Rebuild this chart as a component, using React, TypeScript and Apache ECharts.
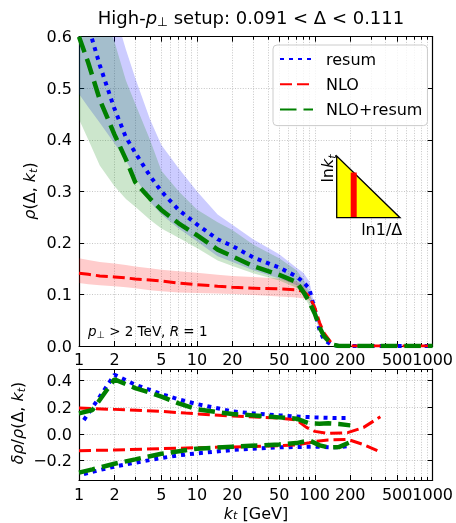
import React, { useEffect, useRef } from "react";
import * as echarts from "echarts";

const FONT = "DejaVu Sans";

// ---------------- upper panel: rho(Delta, k_t) ----------------
const kGrid = [1, 1.2, 1.5, 2, 2.5, 3, 4, 5, 7, 10, 15, 20, 30, 50, 70, 80, 90, 100, 110, 120, 140, 160, 200, 300, 500, 1000];

const resumRho = [0.68, 0.62, 0.545, 0.46, 0.405, 0.375, 0.33, 0.30, 0.264, 0.236, 0.207, 0.194, 0.172, 0.152, 0.135, 0.124, 0.111, 0.07, 0.03, 0.012, 0.002, 0, 0, 0, 0, 0];
const resumUpper = [0.80, 0.76, 0.71, 0.65, 0.575, 0.52, 0.44, 0.39, 0.345, 0.30, 0.255, 0.235, 0.207, 0.178, 0.152, 0.142, 0.125, 0.076, 0.033, 0.013, 0.002, 0, 0, 0, 0, 0];
const resumLower = [0.489, 0.463, 0.433, 0.393, 0.36, 0.328, 0.28, 0.255, 0.228, 0.203, 0.174, 0.163, 0.147, 0.131, 0.118, 0.11, 0.1, 0.064, 0.027, 0.011, 0.002, 0, 0, 0, 0, 0];

const nloRho = [0.141, 0.139, 0.136, 0.134, 0.132, 0.130, 0.128, 0.126, 0.122, 0.119, 0.116, 0.114, 0.112, 0.111, 0.109, 0.106, 0.096, 0.075, 0.045, 0.025, 0.004, 0, 0, 0, 0, 0];
const nloUpper = [0.170, 0.167, 0.163, 0.160, 0.157, 0.154, 0.151, 0.148, 0.145, 0.142, 0.138, 0.136, 0.134, 0.131, 0.125, 0.117, 0.101, 0.077, 0.046, 0.025, 0.004, 0, 0, 0, 0, 0];
const nloLower = [0.122, 0.120, 0.118, 0.116, 0.114, 0.112, 0.108, 0.106, 0.104, 0.103, 0.102, 0.101, 0.099, 0.096, 0.094, 0.092, 0.088, 0.072, 0.043, 0.024, 0.004, 0, 0, 0, 0, 0];

const nloResumRho = [0.60, 0.549, 0.478, 0.41, 0.362, 0.318, 0.286, 0.264, 0.238, 0.215, 0.187, 0.174, 0.155, 0.138, 0.124, 0.105, 0.085, 0.063, 0.036, 0.019, 0.003, 0, 0, 0, 0, 0];
const nloResumUpper = [0.80, 0.72, 0.66, 0.59, 0.515, 0.47, 0.40, 0.34, 0.30, 0.265, 0.24, 0.225, 0.197, 0.17, 0.147, 0.13, 0.105, 0.07, 0.04, 0.02, 0.003, 0, 0, 0, 0, 0];
const nloResumLower = [0.44, 0.40, 0.35, 0.31, 0.285, 0.27, 0.245, 0.228, 0.21, 0.19, 0.166, 0.155, 0.141, 0.127, 0.113, 0.098, 0.078, 0.057, 0.032, 0.017, 0.003, 0, 0, 0, 0, 0];

// ---------------- lower panel: delta rho / rho ----------------
const resumRelUpK = [1.1, 1.5, 2, 3, 5, 7, 10, 20, 30, 50, 70, 100, 150, 200];
const resumRelUp = [0.105, 0.28, 0.445, 0.37, 0.30, 0.26, 0.225, 0.17, 0.155, 0.14, 0.132, 0.125, 0.12, 0.12];
const resumRelLoK = [1.1, 1.5, 2, 3, 5, 7, 10, 20, 30, 50, 70, 100, 150, 200];
const resumRelLo = [-0.30, -0.27, -0.245, -0.215, -0.18, -0.16, -0.145, -0.12, -0.11, -0.10, -0.097, -0.095, -0.10, -0.09];

const nloRelUpK = [1, 2, 5, 8, 20, 50, 70, 85, 100, 130, 190, 260, 360];
const nloRelUp = [0.195, 0.185, 0.17, 0.157, 0.135, 0.12, 0.105, 0.05, 0.02, 0.005, 0.01, 0.05, 0.13];
const nloRelLoK = [1, 2, 5, 10, 20, 50, 70, 90, 100, 130, 190, 260, 360];
const nloRelLo = [-0.125, -0.12, -0.11, -0.103, -0.097, -0.088, -0.082, -0.065, -0.055, -0.045, -0.04, -0.08, -0.135];

const nloResumRelUpK = [1, 1.3, 2, 3, 4, 5, 7, 10, 20, 30, 50, 70, 90, 110, 130, 160, 200];
const nloResumRelUp = [0.155, 0.18, 0.41, 0.345, 0.31, 0.28, 0.23, 0.185, 0.15, 0.14, 0.125, 0.115, 0.08, 0.078, 0.08, 0.075, 0.065];
const nloResumRelLoK = [1, 1.3, 2, 3, 5, 10, 20, 50, 70, 90, 110, 130, 160, 200];
const nloResumRelLo = [-0.29, -0.265, -0.223, -0.19, -0.148, -0.11, -0.095, -0.078, -0.068, -0.048, -0.085, -0.10, -0.098, -0.06];

// ---------------- axes ----------------
const majorK = [1, 2, 5, 10, 20, 50, 100, 200, 500, 1000];
const minorK = [3, 4, 6, 7, 8, 9, 30, 40, 60, 70, 80, 90, 300, 400, 600, 700, 800, 900];
const relTicks = [-0.2, 0, 0.2, 0.4];
const legendNames = ["resum", "NLO", "NLO+resum"];

const BLUE = "#0000ff";
const RED = "#ff0000";
const GREEN = "#008000";

const lg = (k: number) => Math.log10(k);

const gridLine = { show: true, lineStyle: { color: "#b8b8b8", width: 0.8, type: [1, 1.6] } };
const tickLine = { color: "#000", width: 1 };
const axisLineOn = { show: true, onZero: false, lineStyle: { color: "#000", width: 1.2 } };
const axisLineOff = { show: false, onZero: false };

function xAxes(gridIndex: number, margin: number) {
  const base: any = { gridIndex, type: "value", min: 0, max: 3, axisLabel: { show: false }, splitLine: { show: false } };
  return [
    {
      ...base, position: "bottom", axisLine: axisLineOn,
      axisTick: { show: true, inside: true, length: 5, customValues: majorK.map(lg), lineStyle: tickLine },
      axisLabel: {
        show: true, customValues: majorK.map(lg), margin, fontSize: 16, color: "#000", fontFamily: FONT,
        formatter: (v: number) => String(Math.round(Math.pow(10, v))),
      },
      splitLine: gridLine,
    },
    {
      ...base, position: "bottom", axisLine: axisLineOff,
      axisTick: { show: true, inside: true, length: 3, customValues: minorK.map(lg), lineStyle: tickLine },
      splitLine: gridLine,
    },
    {
      ...base, position: "top", axisLine: axisLineOn,
      axisTick: { show: true, inside: true, length: 5, customValues: majorK.map(lg), lineStyle: tickLine },
    },
    {
      ...base, position: "top", axisLine: axisLineOff,
      axisTick: { show: true, inside: true, length: 3, customValues: minorK.map(lg), lineStyle: tickLine },
    },
  ];
}

const fmtRel = (v: number) => (v < -1e-9 ? "\u2212" : "") + Math.abs(v).toFixed(1);

const yAxes = [
  {
    gridIndex: 0, type: "value", min: 0, max: 0.6, interval: 0.1, position: "left", axisLine: axisLineOn,
    axisTick: { show: true, inside: true, length: 5, lineStyle: tickLine },
    axisLabel: { margin: 7, fontSize: 16, color: "#000", fontFamily: FONT, formatter: (v: number) => v.toFixed(1) },
    splitLine: gridLine,
  },
  {
    gridIndex: 0, type: "value", min: 0, max: 0.6, interval: 0.1, position: "right", axisLine: axisLineOn,
    axisTick: { show: true, inside: true, length: 5, lineStyle: tickLine },
    axisLabel: { show: false }, splitLine: { show: false },
  },
  {
    gridIndex: 1, type: "value", min: -0.345, max: 0.488, position: "left", axisLine: axisLineOn,
    axisTick: { show: true, inside: true, length: 5, customValues: relTicks, lineStyle: tickLine },
    axisLabel: { customValues: relTicks, margin: 7, fontSize: 16, color: "#000", fontFamily: FONT, formatter: fmtRel },
    splitLine: gridLine,
  },
  {
    gridIndex: 1, type: "value", min: -0.345, max: 0.488, position: "right", axisLine: axisLineOn,
    axisTick: { show: true, inside: true, length: 5, customValues: relTicks, lineStyle: tickLine },
    axisLabel: { show: false }, splitLine: { show: false },
  },
];

function band(name: string, upper: number[], lower: number[], color: string) {
  return {
    type: "custom", name, xAxisIndex: 0, yAxisIndex: 0, clip: true, silent: true, z: 1,
    data: kGrid.map((k, i) => [lg(k), lower[i], upper[i]]),
    encode: { x: 0, y: [1, 2] },
    renderItem: (params: any, api: any) => {
      if (params.dataIndex !== 0) return null;
      const pts: number[][] = [];
      for (let i = 0; i < kGrid.length; i++) pts.push(api.coord([lg(kGrid[i]), upper[i]]));
      for (let i = kGrid.length - 1; i >= 0; i--) pts.push(api.coord([lg(kGrid[i]), lower[i]]));
      return { type: "polygon", shape: { points: pts }, style: { fill: color, stroke: "none" } };
    },
  };
}

function line(name: string, ks: number[], vals: number[], color: string, width: number, dash: number[], xi: number, yi: number) {
  return {
    type: "line", name, xAxisIndex: xi, yAxisIndex: yi, symbol: "none", silent: true, z: 3,
    data: ks.map((k, i) => [lg(k), vals[i]]),
    lineStyle: { color, width, type: dash, cap: "butt" },
    itemStyle: { color },
  };
}

const DOT = [4, 5];
const DASH_R = [12, 5];
const DASH_G = [16.5, 7];

function sub(main: number, subSize: number, lh: number) {
  return {
    i: { fontStyle: "italic", fontSize: main, fontFamily: FONT, fill: "#000", lineHeight: lh },
    s: { fontSize: subSize, fontFamily: FONT, fill: "#000", lineHeight: subSize, verticalAlign: "bottom" },
    si: { fontStyle: "italic", fontSize: subSize, fontFamily: FONT, fill: "#000", lineHeight: subSize, verticalAlign: "bottom" },
  };
}

function txt(x: number, y: number, text: string, size: number, rot = 0, subSize = 11, lh = size + 4) {
  return {
    type: "text", x, y, rotation: rot, silent: true, z: 10,
    style: {
      text, fontSize: size, fontFamily: FONT, fill: "#000", lineHeight: lh,
      align: "center", verticalAlign: "middle", rich: sub(size, subSize, lh),
    },
  };
}

function buildOption(): any {
  return {
    animation: false,
    textStyle: { fontFamily: FONT },
    grid: [
      { left: 79, top: 36.7, width: 356.7, height: 309.3 },
      { left: 79, top: 369, width: 356.7, height: 111 },
    ],
    xAxis: [...xAxes(0, 5), ...xAxes(1, 6)],
    yAxis: yAxes,
    legend: {
      data: legendNames, left: 273, top: 45, orient: "vertical", selectedMode: false,
      itemWidth: 33, itemHeight: 14, itemGap: 9.3, padding: [6, 5, 8, 6],
      backgroundColor: "rgba(255,255,255,0.8)", borderColor: "#cccccc", borderWidth: 1, borderRadius: 4,
      itemStyle: { color: "rgba(0,0,0,0)", borderColor: "rgba(0,0,0,0)", borderWidth: 0, opacity: 0 },
      textStyle: { fontSize: 16, color: "#000", fontFamily: FONT, padding: [0, 0, 0, 8] },
    },
    series: [
      band("resum band", resumUpper, resumLower, "rgba(0,0,255,0.2)"),
      band("NLO band", nloUpper, nloLower, "rgba(255,0,0,0.2)"),
      band("NLO+resum band", nloResumUpper, nloResumLower, "rgba(0,128,0,0.2)"),
      line("resum", kGrid, resumRho, BLUE, 4, DOT, 0, 0),
      line("NLO", kGrid, nloRho, RED, 3, DASH_R, 0, 0),
      line("NLO+resum", kGrid, nloResumRho, GREEN, 4.5, DASH_G, 0, 0),
      line("resum up", resumRelUpK, resumRelUp, BLUE, 4, DOT, 4, 2),
      line("resum down", resumRelLoK, resumRelLo, BLUE, 4, DOT, 4, 2),
      line("NLO up", nloRelUpK, nloRelUp, RED, 3, DASH_R, 4, 2),
      line("NLO down", nloRelLoK, nloRelLo, RED, 3, DASH_R, 4, 2),
      line("NLO+resum up", nloResumRelUpK, nloResumRelUp, GREEN, 4.5, DASH_G, 4, 2),
      line("NLO+resum down", nloResumRelLoK, nloResumRelLo, GREEN, 4.5, DASH_G, 4, 2),
    ],
    graphic: [
      txt(251, 17, "High-{i|p}{s|\u22a5} setup: 0.091 < \u0394 < 0.111", 18, 0, 12.5),
      txt(29, 191, "{i|\u03c1}(\u0394, {i|k}{si|t})", 16, Math.PI / 2, 11),
      txt(17, 423, "{i|\u03b4\u03c1}/{i|\u03c1}(\u0394, {i|k}{si|t})", 16, Math.PI / 2, 11),
      txt(256, 513, "{i|k}{si|t} [GeV]", 16, 0, 11, 16),
      {
        type: "text", left: 88, top: 322, silent: true, z: 10,
        style: {
          text: "{i|p}{s|\u22a5} > 2 TeV, {i|R} = 1", fontSize: 13.5, fontFamily: FONT, fill: "#000", lineHeight: 17,
          rich: sub(13.5, 9.5, 17),
        },
      },
      {
        type: "polygon", silent: true, z: 5,
        shape: { points: [[336.7, 156], [336.7, 217.7], [400, 217.7]] },
        style: { fill: "#ffff00", stroke: "#000", lineWidth: 1.3 },
      },
      { type: "rect", silent: true, z: 6, shape: { x: 350.7, y: 172.5, width: 6, height: 44.5 }, style: { fill: "#ff0000" } },
      txt(327.5, 168.5, "ln{i|k}{si|t}", 16, Math.PI / 2, 11),
      txt(381.7, 229, "ln1/\u0394", 16, 0),
    ],
  };
}

export default function App() {
  const ref = useRef<HTMLDivElement>(null);
  useEffect(() => {
    const chart = echarts.init(ref.current as HTMLDivElement, null, { renderer: "svg" });
    chart.setOption(buildOption());
    return () => chart.dispose();
  }, []);
  return <div ref={ref} style={{ position: "fixed", left: 0, top: 0, width: 456, height: 523 }} />;
}
